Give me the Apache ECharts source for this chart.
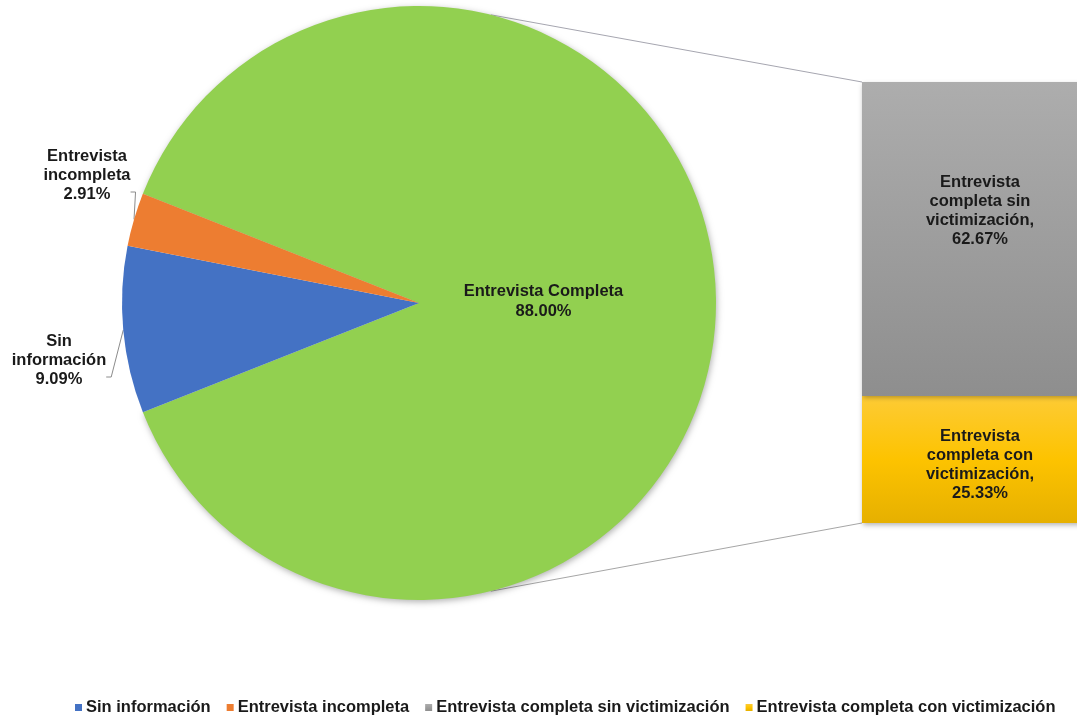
<!DOCTYPE html>
<html>
<head>
<meta charset="utf-8">
<script src="https://cdn.jsdelivr.net/npm/echarts@6/dist/echarts.min.js"></script>
<style>
  html, body { margin: 0; padding: 0; background: #fff; }
  #chart { width: 1077px; height: 718px; }
</style>
</head>
<body>
<div id="chart"></div>
<script>
// Interview outcome shares (pie) and split of completed interviews (stacked bar)
const pieNames = ['Entrevista Completa', 'Sin información', 'Entrevista incompleta'];
const pieValues = [88.00, 9.09, 2.91];
const pieColors = ['#92d050', '#4472c4', '#ed7d31'];

const barNames = ['Entrevista completa con victimización', 'Entrevista completa sin victimización'];
const barValues = [25.33, 62.67];

const legendNames = ['Sin información', 'Entrevista incompleta',
  'Entrevista completa sin victimización', 'Entrevista completa con victimización'];

// layout
const W = 1077, H = 718;
const pieCx = 419, pieCy = 303, pieR = 297;
const barLeft = 862, barWidth = 236, barTop = 82, barBottom = 523;
const FONT = '"Liberation Sans", Arial, sans-serif';
const FS = 16.5, LH = 19;

const pieTotal = pieValues.reduce((a, b) => a + b, 0);
// the "Entrevista Completa" slice is centred on the right side, facing the bar
const startAngle = pieValues[0] / pieTotal * 180;

const chart = echarts.init(document.getElementById('chart'), null, { renderer: 'canvas' });

function pct(v) { return v.toFixed(2) + '%'; }

function barLabel(name, v) {
  const w = name.split(' ');
  return w[0] + '\n' + w[1] + ' ' + w[2] + '\n' + w[3] + ',\n' + pct(v);
}

const barGradients = [
  new echarts.graphic.LinearGradient(0, 0, 0, 1, [
    { offset: 0, color: '#fdcb35' }, { offset: 0.5, color: '#fdc300' }, { offset: 1, color: '#e6b000' }
  ]),
  new echarts.graphic.LinearGradient(0, 0, 0, 1, [
    { offset: 0, color: '#adadad' }, { offset: 1, color: '#8e8e8e' }
  ])
];
const barLegendColors = ['#fcc200', '#a5a5a5'];
const barLabelOffsets = [[0, 5], [0, -28]];

// where the two outside pie labels sit (centre of the text block)
const outsideLabelPos = { 1: [59, 360], 2: [87, 175] };

const option = {
  animation: false,
  backgroundColor: '#ffffff',
  textStyle: { fontFamily: FONT },
  legend: {
    data: legendNames,
    top: 694,
    left: 70,
    icon: 'rect',
    itemWidth: 7,
    itemHeight: 7,
    itemGap: 16,
    textStyle: { fontFamily: FONT, fontSize: FS, fontWeight: 'bold', color: '#1a1a1a', padding: [0, 0, 0, -1] }
  },
  grid: {
    left: barLeft, width: barWidth, top: barTop, bottom: H - barBottom,
    containLabel: false,
    outerBoundsMode: 'none'
  },
  xAxis: { type: 'category', data: [''], show: false },
  yAxis: { type: 'value', min: 0, max: pieValues[0], show: false, splitLine: { show: false } },
  series: [
    {
      type: 'pie',
      center: [pieCx, pieCy],
      radius: pieR,
      startAngle: startAngle,
      clockwise: true,
      avoidLabelOverlap: false,
      label: {
        show: true,
        position: 'outside',
        fontFamily: FONT,
        fontSize: FS,
        fontWeight: 'bold',
        color: '#1a1a1a',
        lineHeight: LH,
        align: 'center',
        formatter: p => p.name.split(' ').join('\n') + '\n' + pct(p.value)
      },
      labelLine: { show: true, length: 12, length2: 8, lineStyle: { color: '#8c8c8c', width: 1 } },
      labelLayout: function (p) {
        const pos = outsideLabelPos[p.dataIndex];
        if (!pos) return {};
        const anchor = p.labelLinePoints ? p.labelLinePoints[0] : null;
        const right = pos[0] + p.labelRect.width / 2;
        const rowY = pos[1] + LH - 2;
        const res = { x: pos[0], y: pos[1], align: 'center', verticalAlign: 'middle' };
        if (anchor) res.labelLinePoints = [anchor, [right + 5, rowY], [right, rowY]];
        return res;
      },
      data: pieNames.map((n, i) => {
        const d = { name: n, value: pieValues[i], itemStyle: { color: pieColors[i] } };
        if (i === 0) {
          d.itemStyle.shadowBlur = 6;
          d.itemStyle.shadowColor = 'rgba(0,0,0,0.3)';
          d.itemStyle.shadowOffsetX = 1;
          d.itemStyle.shadowOffsetY = 2;
          d.label = {
            position: 'inside', offset: [-27, -2], lineHeight: 20,
            formatter: p => p.name + '\n' + pct(p.value)
          };
          d.labelLine = { show: false };
        }
        return d;
      })
    }
  ].concat(barNames.map((n, i) => ({
    type: 'bar',
    name: n,
    stack: 'completa',
    barWidth: '100%',
    color: barLegendColors[i],
    itemStyle: {
      color: barGradients[i],
      shadowBlur: 5, shadowColor: 'rgba(0,0,0,0.3)', shadowOffsetX: 1, shadowOffsetY: 2
    },
    label: {
      show: true,
      position: 'inside',
      offset: barLabelOffsets[i],
      fontFamily: FONT,
      fontSize: FS,
      fontWeight: 'bold',
      color: '#1a1a1a',
      lineHeight: LH,
      align: 'center',
      formatter: p => barLabel(p.seriesName, p.value)
    },
    data: [barValues[i]]
  })))
};

chart.setOption(option);

// connector lines from the pie's rim to the corners of the bar
const rimAngle = 76 * Math.PI / 180;
const barTopPx = chart.convertToPixel({ xAxisIndex: 0, yAxisIndex: 0 }, [0, pieValues[0]]);
const barBottomPx = chart.convertToPixel({ xAxisIndex: 0, yAxisIndex: 0 }, [0, 0]);
chart.setOption({
  graphic: [
    {
      type: 'line', z: -1, silent: true,
      shape: { x1: pieCx + pieR * Math.cos(rimAngle), y1: pieCy - pieR * Math.sin(rimAngle), x2: barLeft, y2: barTopPx[1] },
      style: { stroke: '#a6a6b0', lineWidth: 1 }
    },
    {
      type: 'line', z: -1, silent: true,
      shape: { x1: pieCx + pieR * Math.cos(rimAngle), y1: pieCy + pieR * Math.sin(rimAngle), x2: barLeft, y2: barBottomPx[1] },
      style: { stroke: '#a6a6a6', lineWidth: 1 }
    }
  ]
});
</script>
</body>
</html>
